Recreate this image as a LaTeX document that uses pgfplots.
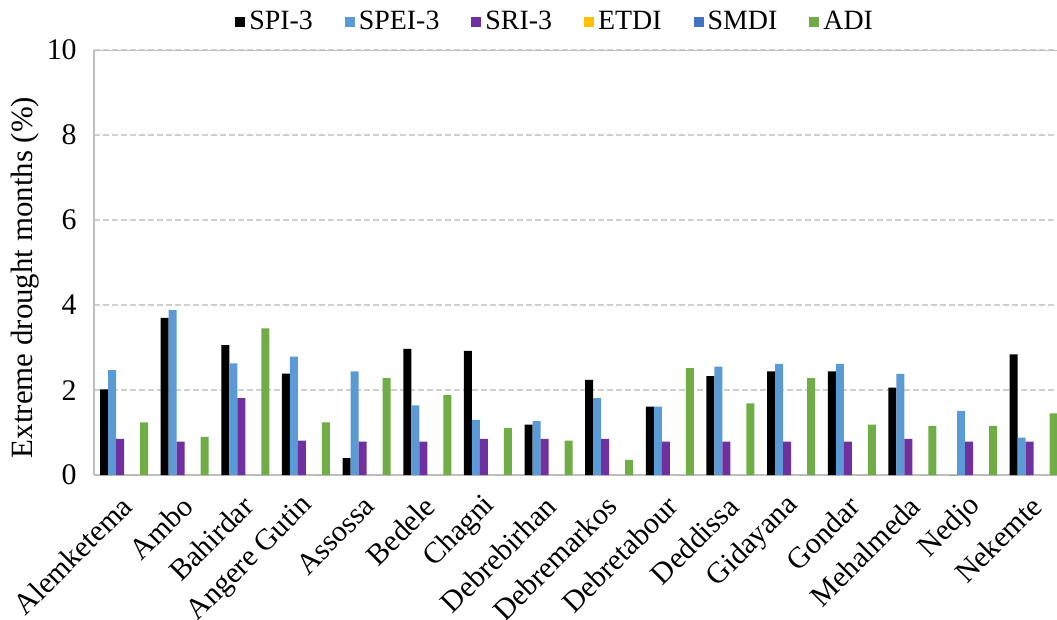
\documentclass[border=0pt]{standalone}
\usepackage{fontspec}
\setmainfont{Liberation Serif}
\usepackage{pgfplots}
\pgfplotsset{compat=1.18}
\definecolor{cSPI}{HTML}{000000}
\definecolor{cSPEI}{HTML}{5B9BD5}
\definecolor{cSRI}{HTML}{7030A0}
\definecolor{cETDI}{HTML}{FFC000}
\definecolor{cSMDI}{HTML}{4472C4}
\definecolor{cADI}{HTML}{70AD47}
\definecolor{axgray}{HTML}{BFBFBF}
\definecolor{grgray}{HTML}{D0D0D0}
\begin{document}
\begin{tikzpicture}
\begin{axis}[
  scale only axis, width=485bp, height=212.5bp,
  ybar=0pt, bar width=4bp,
  xmin=-0.5, xmax=15.5, ymin=0, ymax=10,
  xtick={0,...,15},
  xticklabels={Alemketema,Ambo,Bahirdar,Angere Gutin,Assossa,Bedele,Chagni,Debrebirhan,Debremarkos,Debretabour,Deddissa,Gidayana,Gondar,Mehalmeda,Nedjo,Nekemte},
  ytick={0,2,...,10},
  /pgf/number format/assume math mode=true,
  axis x line*=bottom, axis y line*=left,
  axis line style={draw=axgray, line width=1bp, -},
  major tick length=0pt,
  ymajorgrids, grid style={draw=grgray, line width=1bp, dash pattern=on 3bp off 1.5bp},
  tick label style={font=\fontsize{15}{18}\selectfont},
  yticklabel style={xshift=-5bp},
  xticklabel style={yshift=-13bp, xshift=1.5bp, rotate=45, anchor=east, inner sep=0pt},
  ylabel={Extreme drought months (\%)},
  ylabel style={at={(axis description cs:-0.0708,0.465)}, anchor=center, font=\fontsize{15.5}{18}\selectfont},
  legend columns=6,
  legend style={draw=none, fill=none, at={(axis description cs:0.4766,1)}, anchor=center, yshift=14bp,
    font=\fontsize{14}{16}\selectfont,
    /tikz/every even column/.append style={column sep=14bp}},
  legend image code/.code={\fill[#1] (0bp,-2.5bp) rectangle (5bp,2.5bp);},
]
\addplot[fill=cSPI, draw=none] coordinates {(0,2.02) (1,3.70) (2,3.06) (3,2.39) (4,0.40) (5,2.97) (6,2.92) (7,1.19) (8,2.24) (9,1.61) (10,2.33) (11,2.44) (12,2.44) (13,2.06) (14,0) (15,2.84)};
\addplot[fill=cSPEI, draw=none] coordinates {(0,2.47) (1,3.88) (2,2.63) (3,2.79) (4,2.44) (5,1.64) (6,1.30) (7,1.27) (8,1.81) (9,1.61) (10,2.55) (11,2.62) (12,2.62) (13,2.38) (14,1.51) (15,0.88)};
\addplot[fill=cSRI, draw=none] coordinates {(0,0.85) (1,0.79) (2,1.81) (3,0.81) (4,0.79) (5,0.79) (6,0.85) (7,0.85) (8,0.85) (9,0.79) (10,0.79) (11,0.79) (12,0.79) (13,0.85) (14,0.79) (15,0.79)};
\addplot[fill=cETDI, draw=none] coordinates {(0,0) (1,0) (2,0) (3,0) (4,0) (5,0) (6,0) (7,0) (8,0) (9,0) (10,0) (11,0) (12,0) (13,0) (14,0) (15,0)};
\addplot[fill=cSMDI, draw=none] coordinates {(0,0) (1,0) (2,0) (3,0) (4,0) (5,0) (6,0) (7,0) (8,0) (9,0) (10,0) (11,0) (12,0) (13,0) (14,0) (15,0)};
\addplot[fill=cADI, draw=none] coordinates {(0,1.24) (1,0.90) (2,3.45) (3,1.24) (4,2.28) (5,1.88) (6,1.11) (7,0.81) (8,0.36) (9,2.52) (10,1.69) (11,2.28) (12,1.19) (13,1.16) (14,1.16) (15,1.45)};
\legend{SPI-3,SPEI-3,SRI-3,ETDI,SMDI,ADI}
\draw[axgray, line width=1bp] (rel axis cs:0,1) -- (rel axis cs:1,1);
\coordinate (ll) at (rel axis cs:0,0);
\coordinate (ur) at (rel axis cs:1,1);
\end{axis}
\pgfresetboundingbox
\path ([shift={(-46.85bp,-72bp)}]ll) rectangle ([shift={(-3.5bp,25bp)}]ur);
\end{tikzpicture}
\end{document}
